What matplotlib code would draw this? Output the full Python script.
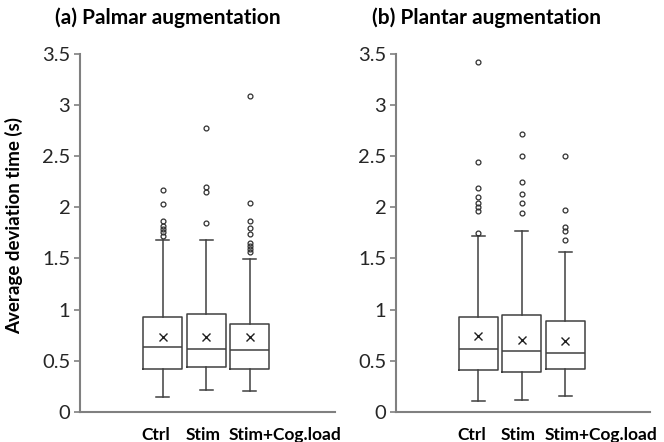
import matplotlib
matplotlib.use('Agg')
import matplotlib.pyplot as plt

plt.rcParams['font.family'] = ['Lato', 'DejaVu Sans']

categories = ['Ctrl', 'Stim', 'Stim+Cog.load']
titles = ['(a) Palmar augmentation', '(b) Plantar augmentation']

# palmar: box stats
palmar_low = [0.14, 0.21, 0.20]
palmar_q1 = [0.415, 0.437, 0.415]
palmar_med = [0.63, 0.61, 0.60]
palmar_mean = [0.728, 0.728, 0.728]
palmar_q3 = [0.93, 0.953, 0.861]
palmar_high = [1.677, 1.677, 1.497]
palmar_fliers = [
    [1.72, 1.755, 1.79, 1.82, 1.866, 2.03, 2.17],
    [1.846, 2.15, 2.195, 2.78],
    [1.56, 1.59, 1.62, 1.65, 1.74, 1.795, 1.87, 2.04, 3.09],
]

# plantar
plantar_low = [0.105, 0.114, 0.154]
plantar_q1 = [0.405, 0.388, 0.415]
plantar_med = [0.617, 0.59, 0.571]
plantar_mean = [0.74, 0.705, 0.692]
plantar_q3 = [0.93, 0.943, 0.884]
plantar_high = [1.72, 1.765, 1.565]
plantar_fliers = [
    [1.75, 1.967, 2.006, 2.04, 2.10, 2.19, 2.44, 3.42],
    [1.944, 2.045, 2.127, 2.247, 2.50, 2.72],
    [1.677, 1.771, 1.807, 1.97, 2.50],
]


def make_stats(low, q1, med, mean, q3, high, fliers):
    stats = []
    for i in range(len(categories)):
        stats.append(dict(whislo=low[i], q1=q1[i], med=med[i], mean=mean[i],
                          q3=q3[i], whishi=high[i], fliers=fliers[i]))
    return stats


panels = [
    make_stats(palmar_low, palmar_q1, palmar_med, palmar_mean, palmar_q3,
               palmar_high, palmar_fliers),
    make_stats(plantar_low, plantar_q1, plantar_med, plantar_mean, plantar_q3,
               plantar_high, plantar_fliers),
]

fig = plt.figure(figsize=(6.64, 4.42), dpi=100)
axes = [fig.add_axes([0.1205, 0.0686, 0.384, 0.809]),
        fig.add_axes([0.5964, 0.0686, 0.3825, 0.809])]

line_col = '#404040'
spine_col = '#808080'
positions = [1, 2, 3]

for ax, stats, title in zip(axes, panels, titles):
    lp = dict(color=line_col, linewidth=1.1)
    ax.bxp(stats, positions=positions, widths=0.9, showmeans=True,
           boxprops=lp, whiskerprops=lp, capprops=lp, medianprops=lp,
           meanprops=dict(marker='x', markeredgecolor='#202020',
                          markersize=6, markeredgewidth=1.0),
           flierprops=dict(marker='o', markerfacecolor='none',
                           markeredgecolor='#303030', markersize=3.5,
                           markeredgewidth=0.9),
           capwidths=0.3)
    ax.set_xlim(-0.9, 4.96)
    ax.set_ylim(0, 3.5)
    ax.set_yticks([0, 0.5, 1, 1.5, 2, 2.5, 3, 3.5])
    ax.set_yticklabels(['0', '0.5', '1', '1.5', '2', '2.5', '3', '3.5'])
    ax.tick_params(axis='y', labelsize=14.5, colors=spine_col,
                   labelcolor='#262626', length=4, width=1.2, pad=3)
    ax.set_xticks([])
    for s in ['top', 'right']:
        ax.spines[s].set_visible(False)
    for s in ['left', 'bottom']:
        ax.spines[s].set_color(spine_col)
        ax.spines[s].set_linewidth(1.5)
    for p, lab in zip(positions, categories):
        ax.text(p - 0.48, -0.064, lab, transform=ax.get_xaxis_transform(),
                ha='left', va='center', fontsize=12.5, fontweight='bold',
                color='black')

# titles sit left of the panel centres
fig.text(168 / 664, 1 - 18 / 442, titles[0], ha='center', va='center',
         fontsize=15, fontweight='bold', color='black')
fig.text(487 / 664, 1 - 18 / 442, titles[1], ha='center', va='center',
         fontsize=15, fontweight='bold', color='black')

axes[0].set_ylabel('Average deviation time (s)', fontsize=13.5,
                   fontweight='bold')
axes[0].yaxis.set_label_coords(-0.222, 0.522)

fig.savefig('out.png', dpi=100)
